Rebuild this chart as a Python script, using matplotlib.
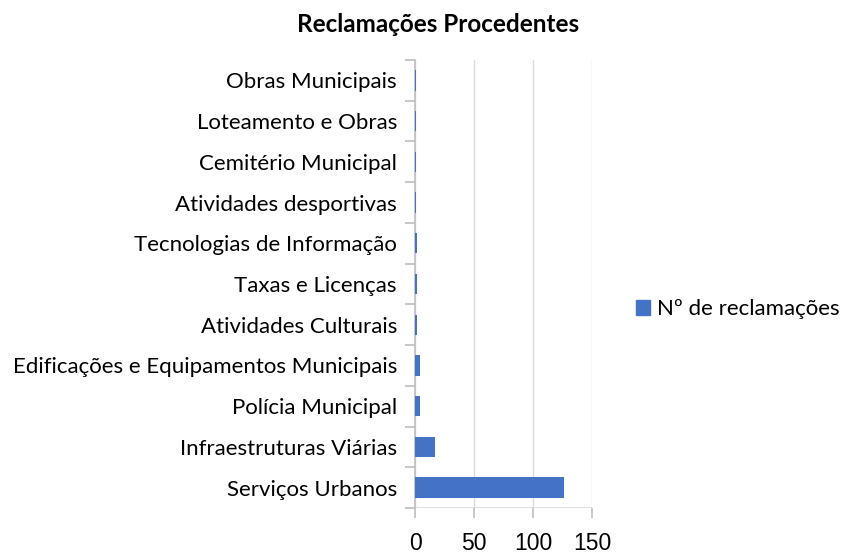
import matplotlib
matplotlib.use("Agg")
import matplotlib.pyplot as plt
from matplotlib.patches import Patch

categories = ["Serviços Urbanos", "Infraestruturas Viárias", "Polícia Municipal",
              "Edificações e Equipamentos Municipais", "Atividades Culturais",
              "Taxas e Licenças", "Tecnologias de Informação", "Atividades desportivas",
              "Cemitério Municipal", "Loteamento e Obras", "Obras Municipais"]
values = [126, 17, 4, 4, 2, 2, 2, 1, 1, 1, 1]
xticks = [0, 50, 100, 150]
series_name = "Nº de reclamações"
title = "Reclamações Procedentes"

plt.rcParams['font.family'] = ['Lato', 'DejaVu Sans']
fig = plt.figure(figsize=(8.46, 5.53), dpi=100)
ax = fig.add_axes([415/846, 1 - 508/553, (592-415)/846, (508-60)/553])
color = "#4472C4"
grey = '#bfbfbf'
ax.barh(range(len(categories)), values, height=0.5, color=color, zorder=3)
ax.set_yticks(range(len(categories)))
ax.set_yticklabels(categories, fontsize=16)
ax.set_ylim(-0.5, len(categories) - 0.5)
ax.set_xlim(0, 150)
ax.set_xticks(xticks)
ax.set_xticklabels([str(t) for t in xticks], fontsize=16.5, family=['Liberation Sans', 'DejaVu Sans'])
ax.grid(axis='x', color='#d9d9d9', linewidth=1, zorder=0)
for s in ['top', 'right', 'bottom']:
    ax.spines[s].set_visible(False)
ax.spines['left'].set_color(grey)
ax.spines['left'].set_linewidth(1.2)
ax.tick_params(axis='y', which='major', length=0, pad=13)
ax.tick_params(axis='x', length=7, color=grey, width=1.2, pad=10)
# minor ticks between categories on y-axis
ax.set_yticks([i - 0.5 for i in range(len(categories) + 1)], minor=True)
ax.tick_params(axis='y', which='minor', length=7, color=grey, width=1.2)
ax.axhline(-0.5, color='#d9d9d9', linewidth=1.2, zorder=1)
fig.text(438/846, 1 - 25/553, title, fontsize=17.5, fontweight='bold', ha='center', va='center')
fig.legend(handles=[Patch(color=color, label=series_name)],
           loc='center left', bbox_to_anchor=(636/846, 1 - 309/553),
           frameon=False, fontsize=16, handlelength=0.65, handleheight=0.65,
           handletextpad=0.3, borderaxespad=0, borderpad=0)
fig.savefig("out.png", dpi=100)
